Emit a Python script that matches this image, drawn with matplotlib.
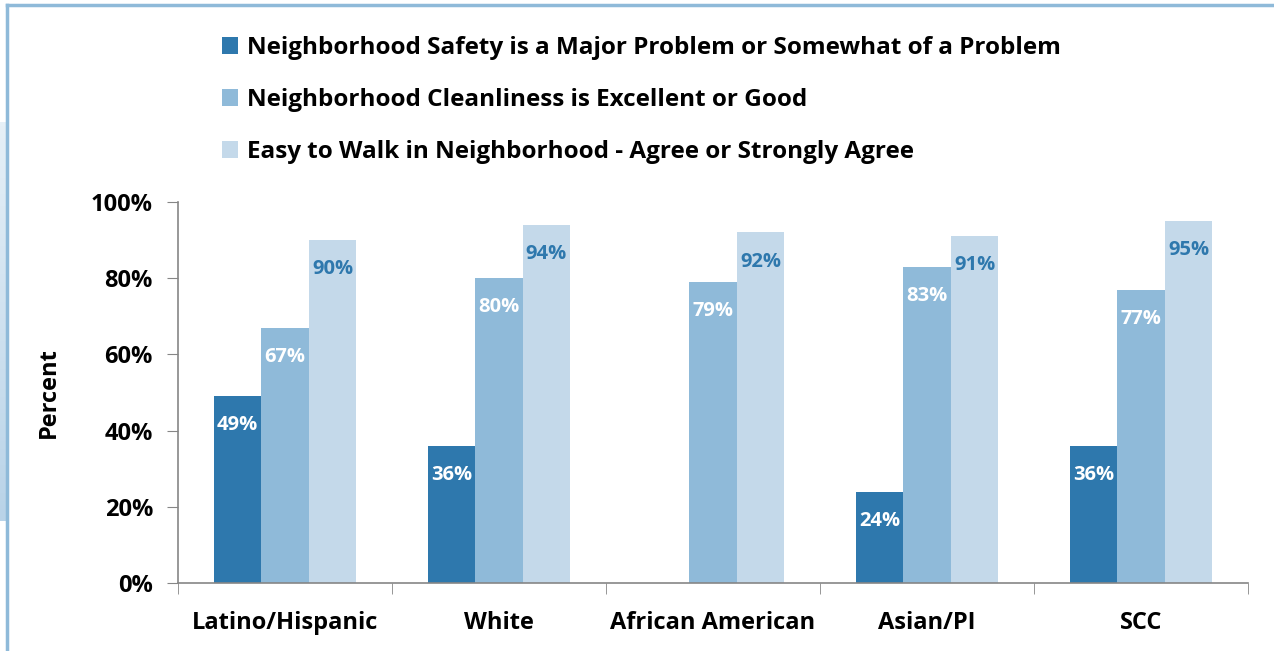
import numpy as np
import matplotlib.pyplot as plt
from matplotlib.patches import Patch
from matplotlib.lines import Line2D
from matplotlib.colors import LinearSegmentedColormap

groups = ['Latino/Hispanic', 'White', 'African American', 'Asian/PI', 'SCC']
series_names = [
    'Neighborhood Safety is a Major Problem or Somewhat of a Problem',
    'Neighborhood Cleanliness is Excellent or Good',
    'Easy to Walk in Neighborhood - Agree or Strongly Agree',
]
safety = [49, 36, np.nan, 24, 36]
cleanliness = [67, 80, 79, 83, 77]
walkable = [90, 94, 92, 91, 95]

colors = ['#2E78AD', '#8FBAD9', '#C4D9EA']
label_colors = ['white', 'white', '#2E78AD']

plt.rcParams['font.family'] = ['Open Sans', 'DejaVu Sans']
plt.rcParams['font.weight'] = 'bold'

fig = plt.figure(figsize=(12.74, 6.51), dpi=100)
ax = fig.add_axes([0.1397, 0.1045, 0.8399, 0.5852])

x = np.arange(len(groups))
width = 0.222
for i, vals in enumerate([safety, cleanliness, walkable]):
    pos = x + (i - 1) * width
    ax.bar(pos, vals, width=width, color=colors[i], label=series_names[i])
    for px, v in zip(pos, vals):
        if np.isnan(v):
            continue
        ax.annotate(f'{v:.0f}%', (px, v), xytext=(0, -21), textcoords='offset points',
                    ha='center', va='center', color=label_colors[i],
                    fontsize=14.5, fontweight='bold')

ax.set_xlim(-0.5, len(groups) - 0.5)
ax.set_ylim(0, 100)
ax.set_yticks(range(0, 101, 20))
ax.set_yticklabels([f'{t}%' for t in range(0, 101, 20)], fontsize=17, fontweight='bold')
ax.set_xticks(x)
ax.set_xticklabels(groups, fontsize=17, fontweight='bold')
ax.set_xticks(np.arange(-0.5, len(groups)), minor=True)
ax.tick_params(axis='x', which='major', length=0, pad=20)
ax.tick_params(axis='x', which='minor', length=8, color='#868686', direction='out')
ax.tick_params(axis='y', length=8, color='#868686', direction='out', pad=10)
for side in ['top', 'right']:
    ax.spines[side].set_visible(False)
for side in ['left', 'bottom']:
    ax.spines[side].set_color('#868686')
    ax.spines[side].set_linewidth(1.2)
ax.set_ylabel('Percent', fontsize=17, fontweight='bold', labelpad=22)

handles = [Patch(facecolor=c, edgecolor='none') for c in colors]
fig.legend(handles, series_names, loc='upper left', bbox_to_anchor=(0.157, 0.978),
           frameon=False, handlelength=0.68, handleheight=0.68,
           handletextpad=0.35, labelspacing=1.15, prop={'weight': 'bold', 'size': 17.5})

# slide frame and side panel
fig.add_artist(Line2D([0.0055, 1.0], [0.992, 0.992], color='#8FBAD9', lw=2.5,
                      transform=fig.transFigure))
fig.add_artist(Line2D([0.0055, 0.0055], [0.0, 0.992], color='#8FBAD9', lw=2.5,
                      transform=fig.transFigure))
grad_ax = fig.add_axes([0.0, 0.2, 0.0045, 0.612])
grad_ax.imshow(np.linspace(0, 1, 100).reshape(-1, 1), aspect='auto',
               cmap=LinearSegmentedColormap.from_list('panel', ['#E6F0F7', '#B9D3E8']))
grad_ax.axis('off')

fig.savefig('out.png', dpi=100)
